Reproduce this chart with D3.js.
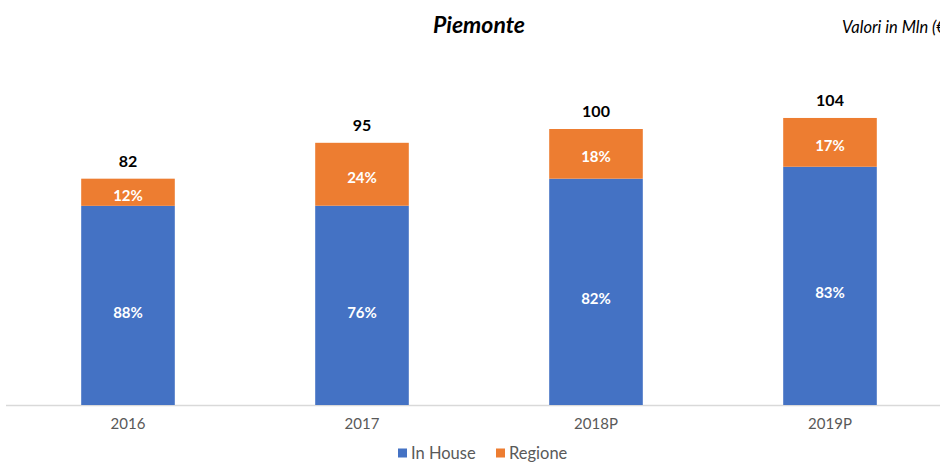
<!DOCTYPE html>
<html>
<head>
<meta charset="utf-8">
<script src="https://cdn.jsdelivr.net/npm/d3@7"></script>
<style>
  html, body { margin: 0; padding: 0; background: #fff; }
  svg { display: block; font-family: Lato, "Open Sans", sans-serif; }
</style>
</head>
<body>
<svg id="chart" width="940" height="462"></svg>
<script>
// Yearly totals (Mln €) and the share of each channel
const years = ["2016", "2017", "2018P", "2019P"];
const totals = [82, 95, 100, 104];
const inHousePct = [88, 76, 82, 83];
const regionePct = [12, 24, 18, 17];
const seriesNames = ["In House", "Regione"];
const colors = ["#4472C4", "#ED7D31"];

const svg = d3.select("#chart");
const baseY = 405;

const x = d3.scaleBand()
  .domain(years)
  .range([11, 947])
  .paddingInner(0.6)
  .paddingOuter(0.3);

const y = d3.scaleLinear()
  .domain([0, 120])
  .range([baseY, baseY - 120 * 2.76]);

// stacked rows: in-house value at bottom, regione on top
const rows = years.map((yr, i) => {
  const ih = totals[i] * inHousePct[i] / 100;
  return {
    year: yr,
    total: totals[i],
    segs: [
      { key: 0, y0: 0, y1: ih, pct: inHousePct[i] },
      { key: 1, y0: ih, y1: totals[i], pct: regionePct[i] }
    ]
  };
});

// Title
svg.append("text")
  .attr("x", 479).attr("y", 33)
  .attr("text-anchor", "middle")
  .attr("font-size", 23).attr("font-weight", "bold").attr("font-style", "italic")
  .attr("fill", "#000")
  .text("Piemonte");

svg.append("text")
  .attr("x", 842).attr("y", 33)
  .attr("font-size", 16.5).attr("font-style", "italic")
  .attr("fill", "#000")
  .text("Valori in Mln (€)");

// Baseline
svg.append("line")
  .attr("x1", 6).attr("x2", 940)
  .attr("y1", baseY + 0.5).attr("y2", baseY + 0.5)
  .attr("stroke", "#D9D9D9").attr("stroke-width", 1.5);

const g = svg.append("g");
const bar = g.selectAll("g.bar").data(rows).join("g").attr("class", "bar");

bar.selectAll("rect").data(d => d.segs.map(s => ({ ...s, year: d.year })))
  .join("rect")
  .attr("x", d => x(d.year))
  .attr("width", x.bandwidth())
  .attr("y", d => y(d.y1))
  .attr("height", d => y(d.y0) - y(d.y1))
  .attr("fill", d => colors[d.key]);

// share labels inside each segment
bar.selectAll("text.pct").data(d => d.segs.map(s => ({ ...s, year: d.year })))
  .join("text")
  .attr("class", "pct")
  .attr("x", d => x(d.year) + x.bandwidth() / 2)
  .attr("y", d => (y(d.y0) + y(d.y1)) / 2 + (d.key === 0 ? 7 : 3))
  .attr("dy", "0.35em")
  .attr("text-anchor", "middle")
  .attr("font-size", 15).attr("font-weight", "bold")
  .attr("fill", "#fff")
  .text(d => d.pct + "%");

// totals above the stacks
bar.append("text")
  .attr("x", d => x(d.year) + x.bandwidth() / 2)
  .attr("y", d => y(d.total) - 12)
  .attr("text-anchor", "middle")
  .attr("font-size", 16).attr("font-weight", "bold")
  .attr("fill", "#000")
  .text(d => d.total);

// Category axis
const xAxis = svg.append("g")
  .attr("transform", `translate(0,${baseY})`)
  .call(d3.axisBottom(x).tickSize(0).tickPadding(13));
xAxis.select(".domain").remove();
xAxis.selectAll("text")
  .attr("font-size", 15).attr("fill", "#595959")
  .attr("font-family", "Lato, 'Open Sans', sans-serif");

// Legend
const legendItems = [{ name: seriesNames[0], x: 398 }, { name: seriesNames[1], x: 496 }];
const lg = svg.append("g").selectAll("g").data(legendItems).join("g")
  .attr("transform", d => `translate(${d.x},${453})`);
lg.append("rect")
  .attr("x", 0).attr("y", -4.5).attr("width", 9).attr("height", 9)
  .attr("fill", (d, i) => colors[i]);
lg.append("text")
  .attr("x", 13).attr("y", 0).attr("dy", "0.35em")
  .attr("font-size", 16.5).attr("fill", "#595959")
  .text(d => d.name);
</script>
</body>
</html>
